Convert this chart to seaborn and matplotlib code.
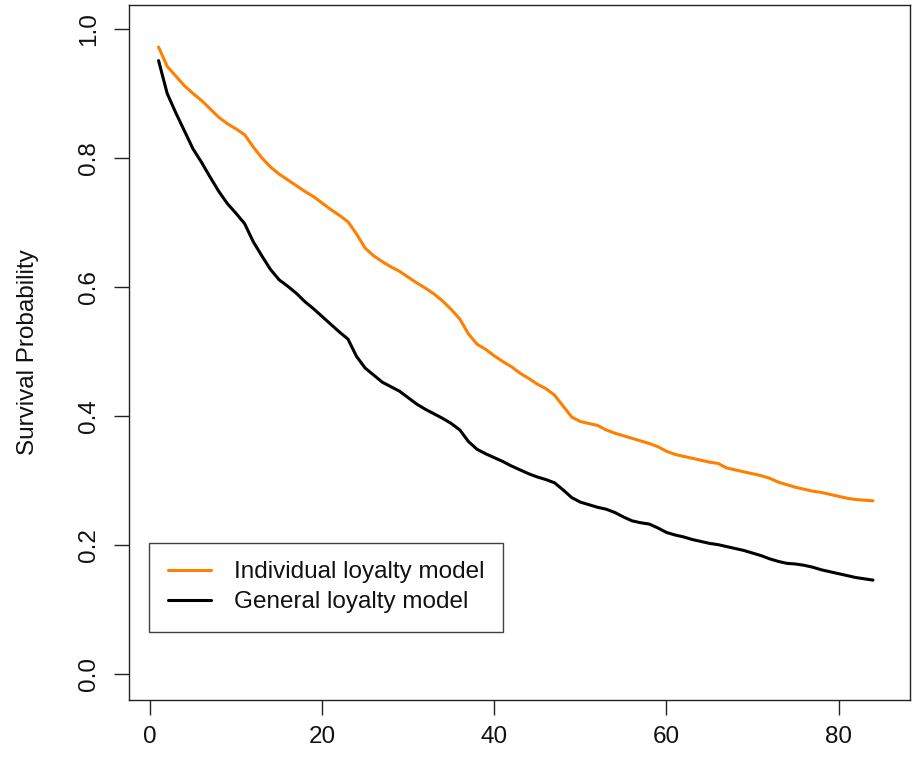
import numpy as np
import pandas as pd
import matplotlib
matplotlib.use("Agg")
import matplotlib.pyplot as plt
import seaborn as sns

# ---- data ----
months = list(range(1, 85))
individual = [0.972, 0.942, 0.927, 0.912, 0.900, 0.889, 0.876, 0.863, 0.853, 0.845,
              0.836, 0.817, 0.800, 0.786, 0.775, 0.766, 0.757, 0.748, 0.740, 0.730,
              0.720, 0.711, 0.701, 0.682, 0.660, 0.648, 0.639, 0.631, 0.624, 0.615,
              0.606, 0.598, 0.589, 0.578, 0.565, 0.550, 0.527, 0.511, 0.503, 0.493,
              0.484, 0.476, 0.466, 0.458, 0.449, 0.442, 0.432, 0.415, 0.398, 0.391,
              0.388, 0.385, 0.378, 0.373, 0.369, 0.365, 0.361, 0.357, 0.352, 0.345,
              0.340, 0.337, 0.334, 0.331, 0.328, 0.326, 0.319, 0.316, 0.313, 0.310,
              0.307, 0.303, 0.297, 0.293, 0.289, 0.286, 0.283, 0.281, 0.278, 0.275,
              0.272, 0.270, 0.269, 0.268]
general = [0.951, 0.900, 0.870, 0.842, 0.814, 0.793, 0.770, 0.748, 0.729, 0.714,
           0.698, 0.670, 0.648, 0.627, 0.611, 0.601, 0.590, 0.577, 0.566, 0.554,
           0.542, 0.530, 0.519, 0.492, 0.474, 0.463, 0.452, 0.445, 0.438, 0.428,
           0.418, 0.410, 0.403, 0.396, 0.388, 0.378, 0.360, 0.348, 0.341, 0.335,
           0.329, 0.322, 0.316, 0.310, 0.305, 0.301, 0.296, 0.285, 0.273, 0.266,
           0.262, 0.258, 0.255, 0.250, 0.243, 0.237, 0.234, 0.232, 0.226, 0.219,
           0.215, 0.212, 0.208, 0.205, 0.202, 0.200, 0.197, 0.194, 0.191, 0.187,
           0.183, 0.178, 0.174, 0.171, 0.170, 0.168, 0.165, 0.161, 0.158, 0.155,
           0.152, 0.149, 0.147, 0.145]
series_names = ["Individual loyalty model", "General loyalty model"]
series_colors = ["#FF7F00", "#000000"]
x_ticks = [0, 20, 40, 60, 80]
y_ticks = [0.0, 0.2, 0.4, 0.6, 0.8, 1.0]
y_label = "Survival Probability"

# ---- styling ----
sns.set_style("white")
plt.rcParams["font.family"] = ["Liberation Sans", "DejaVu Sans"]
FS = 17.5

fig = plt.figure(figsize=(9.15, 7.59), dpi=100)
ax = fig.add_axes([129.3 / 915, 1 - 700 / 759, (910 - 129.3) / 915, (700 - 4.7) / 759])

df = pd.DataFrame({"month": months, "ind": individual, "gen": general})
sns.lineplot(data=df, x="month", y="ind", ax=ax, color=series_colors[0],
             lw=2.2, label=series_names[0])
sns.lineplot(data=df, x="month", y="gen", ax=ax, color=series_colors[1],
             lw=2.2, label=series_names[1])

ax.set_xlim(-2.4, 88.3)
ax.set_ylim(-0.041, 1.0377)
ax.set_xticks(x_ticks)
ax.set_xticklabels([str(t) for t in x_ticks])
ax.set_yticks(y_ticks)
ax.set_yticklabels([f"{t:.1f}" for t in y_ticks], rotation=90, va="center")

for s in ax.spines.values():
    s.set_visible(True)
    s.set_color("#222222")
    s.set_linewidth(1.0)

ax.tick_params(axis="both", direction="out", length=11, width=1.0,
               color="#222222", labelsize=FS, labelcolor="#111111")
ax.tick_params(axis="x", pad=8, bottom=True)
ax.tick_params(axis="y", pad=10, left=True)

ax.set_xlabel("")
ax.set_ylabel(y_label, fontsize=FS, color="#111111")
ax.yaxis.set_label_coords(-0.1157, 0.5)

leg = ax.legend(loc="lower left", bbox_to_anchor=(0.0256, 0.0982),
                borderaxespad=0, fontsize=FS, frameon=True, fancybox=False,
                edgecolor="#111111", handlelength=1.8, handletextpad=0.95,
                labelspacing=0.33, borderpad=0.75)
leg.get_frame().set_linewidth(1.0)
for t in leg.get_texts():
    t.set_color("#111111")

fig.savefig("out.png", dpi=100, facecolor="white")
